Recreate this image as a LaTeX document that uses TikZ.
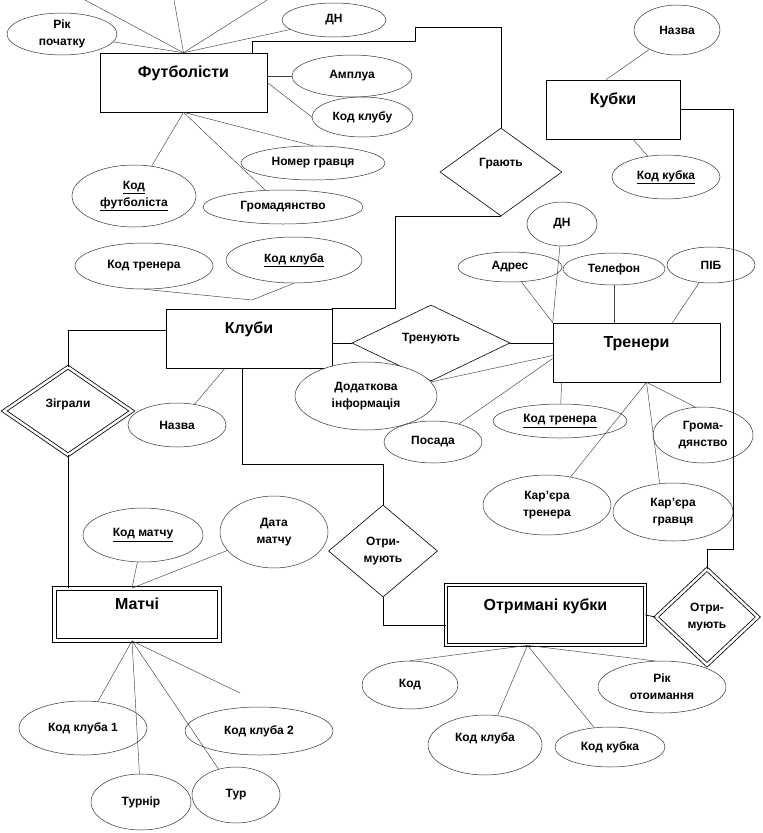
\documentclass[tikz,border=0pt]{standalone}
\usepackage{fontspec}
\setmainfont{Liberation Sans}
\usetikzlibrary{shapes.geometric}

\newcommand\attrfont{\fontsize{12}{17}\selectfont\bfseries}
\newcommand\entfont{\fontsize{16}{18}\selectfont\bfseries}

\tikzset{
  attr/.style={ellipse, draw=black!80, line width=0.5pt, fill=white, inner sep=0pt, align=center, font=\attrfont},
  entity/.style={rectangle, draw, line width=0.6pt, inner sep=0pt, text height=24pt, text depth=35pt, font=\entfont},
  rel/.style={diamond, draw, line width=0.6pt, inner sep=0pt, align=center, font=\attrfont},
  twin/.style={double, double distance=2.5pt, line width=0.8pt},
  lift/.style={text height=9pt, text depth=#1},
  ln/.style={line width=0.45pt, black!75},
  wire/.style={line width=0.7pt},
}

\begin{document}
\begin{tikzpicture}[x=1pt, y=-1pt]
  \useasboundingbox (0,0) rectangle (763,833);

  % entities
  \node[entity, minimum width=167pt] (fut) at (183.5,82.5) {Футболісти};
  \node[entity, minimum width=134pt] (kub) at (613,109.5) {Кубки};
  \node[entity, minimum width=166pt] (klub) at (249,338.5) {Клуби};
  \node[entity, minimum width=167pt] (trn) at (636.5,352.5) {Тренери};
  \node[entity, twin, minimum width=165pt, text height=21pt, text depth=31pt] (mat) at (137,614.5) {Матчі};
  \node[entity, twin, minimum width=199pt, text height=25pt, text depth=35pt] (otrk) at (545.5,615) {Отримані кубки};

  % relationships
  \node[rel, minimum width=122pt, minimum height=88pt, lift=20pt] (hrai) at (501,172) {Грають};
  \node[rel, twin, minimum width=128pt, minimum height=88pt, lift=16pt] (zigr) at (68,411) {Зіграли};
  \node[rel, aspect=2, minimum width=158pt, minimum height=76pt, lift=12pt] (tren) at (431,343) {Тренують};
  \node[rel, minimum width=109pt, minimum height=92pt] (otr1) at (383,551) {Отри-\\мують};
  \node[rel, twin, minimum width=102pt, minimum height=96pt] (otr2) at (707,617) {Отри-\\мують};

  % attributes
  \node[attr, minimum width=110pt, minimum height=42pt] (rik) at (62,34) {Рік\\початку};
  \node[attr, minimum width=104pt, minimum height=34pt] (dn1) at (334,20) {ДН};
  \node[attr, minimum width=120pt, minimum height=42pt] (ampl) at (352,76) {Амплуа};
  \node[attr, minimum width=101pt, minimum height=40pt] (kodkl) at (362.5,117) {Код клубу};
  \node[attr, minimum width=144pt, minimum height=34pt] (nomer) at (313,163) {Номер гравця};
  \node[attr, minimum width=160pt, minimum height=34pt] (hrom1) at (283,207) {Громадянство};
  \node[attr, minimum width=124pt, minimum height=62pt] (kodfut) at (134,196) {\underline{Код}\\\underline{футболіста}};
  \node[attr, minimum width=86pt, minimum height=50pt] (naz1) at (677,30) {Назва};
  \node[attr, minimum width=108pt, minimum height=44pt] (kodkub) at (666,177) {\underline{Код кубка}};
  \node[attr, minimum width=138pt, minimum height=46pt] (kodtr1) at (144,266) {Код тренера};
  \node[attr, minimum width=136pt, minimum height=46pt] (kodklub) at (294,260) {\underline{Код клуба}};
  \node[attr, minimum width=98pt, minimum height=44pt] (naz2) at (177,425) {Назва};
  \node[attr, minimum width=70pt, minimum height=44pt] (dn2) at (562,224) {ДН};
  \node[attr, minimum width=104pt, minimum height=30pt] (adres) at (510,267) {Адрес};
  \node[attr, minimum width=102pt, minimum height=32pt] (tel) at (614,269) {Телефон};
  \node[attr, minimum width=88pt, minimum height=36pt] (pib) at (711,265) {ПІБ};
  \node[attr, minimum width=142pt, minimum height=68pt] (dod) at (366,396) {Додаткова\\інформація};
  \node[attr, minimum width=98pt, minimum height=42pt] (posada) at (433,442) {Посада};
  \node[attr, minimum width=134pt, minimum height=34pt] (kodtr2) at (560,421) {\underline{Код тренера}};
  \node[attr, minimum width=100pt, minimum height=56pt] (hrom2) at (703,435) {Грома-\\дянство};
  \node[attr, minimum width=128pt, minimum height=60pt] (kartr) at (547,505) {Кар’єра\\тренера};
  \node[attr, minimum width=120pt, minimum height=58pt] (karhr) at (673,512) {Кар’єра\\гравця};
  \node[attr, minimum width=120pt, minimum height=54pt] (kodmat) at (143,535) {\underline{Код матчу}};
  \node[attr, minimum width=108pt, minimum height=72pt] (data) at (274,532) {Дата\\матчу};
  \node[attr, minimum width=128pt, minimum height=54pt] (kk1) at (83,728) {Код клуба 1};
  \node[attr, minimum width=148pt, minimum height=48pt] (kk2) at (259,731) {Код клуба 2};
  \node[attr, minimum width=100pt, minimum height=56pt] (turnir) at (141,802) {Турнір};
  \node[attr, minimum width=88pt, minimum height=56pt] (tur) at (236,795) {Тур};
  \node[attr, minimum width=96pt, minimum height=48pt] (kod) at (410,685) {Код};
  \node[attr, minimum width=114pt, minimum height=60pt, lift=16pt] (kodklub3) at (485,745) {Код клуба};
  \node[attr, minimum width=110pt, minimum height=40pt] (kodkub3) at (610,747) {Код кубка};
  \node[attr, minimum width=128pt, minimum height=52pt] (rikotr) at (662,687) {Рік\\отоимання};

  \coordinate (t1) at (85,0);
  \coordinate (t2) at (174,0);
  \coordinate (t3) at (267,0);
  \coordinate (kv) at (252,300);
  \coordinate (mk) at (240,693);

  % Футболісти
  \draw[ln] (fut.north) -- (t1);
  \draw[ln] (fut.north) -- (t2);
  \draw[ln] (fut.north) -- (t3);
  \draw[ln] (fut.north) -- (rik);
  \draw[ln] (fut.north) -- (dn1);
  \draw[ln] (fut.east |- ampl) -- (ampl);
  \draw[ln] (fut.east) -- (kodkl.west);
  \draw[ln] (fut.south) -- (kodfut);
  \draw[ln] (fut.south) -- (hrom1);
  \draw[ln] (fut.south) -- (nomer.north);

  % Кубки
  \draw[ln] ([xshift=-7pt]kub.north) -- (naz1);
  \draw[ln] ([xshift=20pt]kub.south) -- (kodkub);

  % Клуби
  \draw[ln] (kv) -- (kodtr1.south);
  \draw[ln] (kv) -- (kodklub.south);
  \draw[ln] ([xshift=-24pt]klub.south) -- (naz2);

  % Тренери
  \draw[ln] (trn.north west) -- (dn2);
  \draw[ln] (trn.north west) -- (adres);
  \draw[ln] (tel.south) -- (tel.south |- trn.north);
  \draw[ln] ([xshift=-48pt]trn.north east) -- (pib);
  \draw[ln] ([yshift=-3pt]trn.west) -- (dod);
  \draw[ln] ([yshift=-6pt]trn.west) -- (posada);
  \draw[ln] ([xshift=9pt]trn.south west) -- (kodtr2);
  \draw[ln] ([xshift=10pt]trn.south) -- (hrom2.105);
  \draw[ln] ([xshift=10pt]trn.south) -- (karhr.115);
  \draw[ln] ([xshift=10pt]trn.south) -- (kartr.50);

  % Матчі
  \draw[ln] ([xshift=-5pt]mat.north) -- (kodmat);
  \draw[ln] ([xshift=-5pt]mat.north) -- (data);
  \draw[ln] ([xshift=-5pt]mat.south) -- (kk1);
  \draw[ln] ([xshift=-5pt]mat.south) -- (turnir);
  \draw[ln] ([xshift=-5pt]mat.south) -- (tur);
  \draw[ln] ([xshift=-5pt]mat.south) -- (mk);

  % Отримані кубки
  \draw[ln] ([xshift=-18pt]otrk.south) -- (kod.north);
  \draw[ln] ([xshift=-18pt]otrk.south) -- (kodklub3);
  \draw[ln] ([xshift=-18pt]otrk.south) -- (kodkub3);
  \draw[ln] ([xshift=-18pt]otrk.south) -- (rikotr.105);

  % relationship lines
  \draw[wire] ([xshift=-15pt]fut.north east) -- ++(0,-11) -| (415,27) -| (hrai.north);
  \draw[wire] (hrai.south) -| ([xshift=63pt]klub.north east) -- (klub.north east);
  \draw[wire] ([yshift=8.5pt]klub.west) -| (zigr.north);
  \draw[wire] (zigr.south) -- (zigr.south |- mat.north);
  \draw[wire] (klub.east |- tren.west) -- (tren.west);
  \draw[wire] (tren.east) -- (trn.west |- tren.east);
  \draw[wire] ([xshift=-7pt]klub.south) -- ++(0,96) -| (otr1.north);
  \draw[wire] (otr1.south) |- ([yshift=-10pt]otrk.west);
  \draw[wire] (otrk.east) -- (otr2.west);
  \draw[wire] (otr2.north) -- ++(0,-19) -| ([xshift=53pt]kub.east) -- (kub.east);
\end{tikzpicture}
\end{document}
